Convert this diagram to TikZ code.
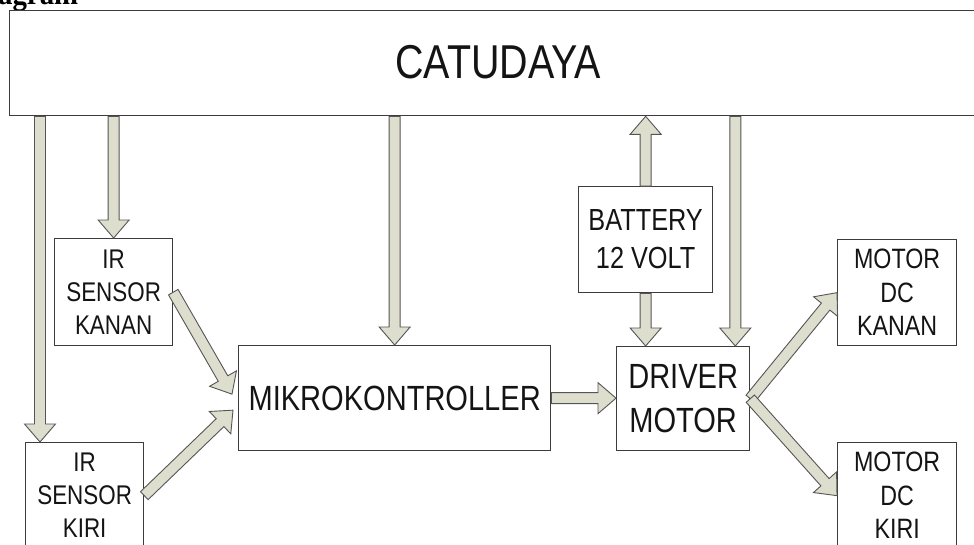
\documentclass[tikz,border=0pt]{standalone}
\usepackage{fontspec}
\setmainfont{Liberation Sans}[FakeStretch=0.83]
\newfontfamily\headfont{Liberation Serif}[FakeStretch=0.9]
\usetikzlibrary{calc}

\definecolor{arrfill}{RGB}{221,222,205}
\definecolor{arrline}{RGB}{85,85,85}
\definecolor{boxline}{RGB}{60,60,60}
\definecolor{txt}{RGB}{20,20,20}

\def\fasw{5.5pt}
\def\fahw{15.5pt}
\def\fahl{18pt}
\newcommand\fatarr[2]{%
  \coordinate (fac) at ($(#2)!\fahl!(#1)$);
  \filldraw[fat] ($(#1)!\fasw!90:(#2)$) -- ($(fac)!\fasw!90:(#2)$) --
    ($(fac)!\fahw!90:(#2)$) -- (#2) -- ($(fac)!\fahw!-90:(#2)$) --
    ($(fac)!\fasw!-90:(#2)$) -- ($(#1)!\fasw!-90:(#2)$) -- cycle;}

\tikzset{
  box/.style={draw=boxline, line width=1.3pt, fill=white, inner sep=0pt,
    align=center, anchor=north west, text=txt},
  fat/.style={fill=arrfill, draw=arrline, line width=0.9pt, line join=miter},
  fbig/.style={font=\fontsize{35}{44}\selectfont},
  fmid/.style={font=\fontsize{30.5}{38}\selectfont},
  fmot/.style={font=\fontsize{28}{33.5}\selectfont},
  fir/.style={font=\fontsize{27}{33}\selectfont},
}

\begin{document}
\begin{tikzpicture}[x=1pt,y=-1pt]
\useasboundingbox (0,0) rectangle (974,544);
\clip (0,0) rectangle (974,544);

\node[anchor=base west, inner sep=0pt, font=\headfont\bfseries\fontsize{32}{36}\selectfont] (ttl) at (-2,4) {agram};

\node[box, minimum width=977pt, minimum height=105pt,
      font=\fontsize{47.5}{50}\selectfont] (cat) at (9,10) {\raisebox{3pt}{CATUDAYA}};

\node[box, fir, minimum width=118pt, minimum height=107pt] (irk) at (54,238) {IR\\SENSOR\\KANAN};
\node[box, fir, minimum width=118pt, minimum height=106pt] (iki) at (25,442) {IR\\SENSOR\\KIRI};
\node[box, fbig, minimum width=312pt, minimum height=105pt] (mik) at (238,345) {MIKROKONTROLLER};
\node[box, fmid, minimum width=134pt, minimum height=106pt] (bat) at (578,186) {BATTERY\\12 VOLT};
\node[box, fbig, minimum width=133pt, minimum height=104pt] (drv) at (616,346) {DRIVER\\MOTOR};
\node[box, fmot, minimum width=119pt, minimum height=106pt] (mka) at (837,239) {MOTOR\\DC\\KANAN};
\node[box, fmot, minimum width=119pt, minimum height=106pt] (mki) at (837,442) {MOTOR\\DC\\KIRI};

% connector end points
\coordinate (e1) at ($(iki.north west)+(15,0)$);
\coordinate (s1) at (e1 |- cat.south);
\coordinate (s2) at (irk.north |- cat.south);
\coordinate (s3) at (mik.north |- cat.south);
\coordinate (e4) at (bat.north |- cat.south);
\coordinate (e5) at (bat.south |- drv.north);
\coordinate (e6) at ($(drv.north east)+(-15,0)$);
\coordinate (s6) at (e6 |- cat.south);
\coordinate (e7) at (mik.east -| drv.west);
\coordinate (e8) at ($(mik.west)+(-6,-4)$);
\coordinate (e9) at ($(mik.west)+(-5,12)$);

\fatarr{s1}{e1}
\fatarr{s2}{irk.north}
\fatarr{s3}{mik.north}
\fatarr{bat.north}{e4}
\fatarr{bat.south}{e5}
\fatarr{s6}{e6}
\fatarr{mik.east}{e7}
\fatarr{irk.east}{e8}
\fatarr{iki.east}{e9}
\fatarr{drv.east}{mka.west}
\fatarr{drv.east}{mki.west}
\end{tikzpicture}
\end{document}
